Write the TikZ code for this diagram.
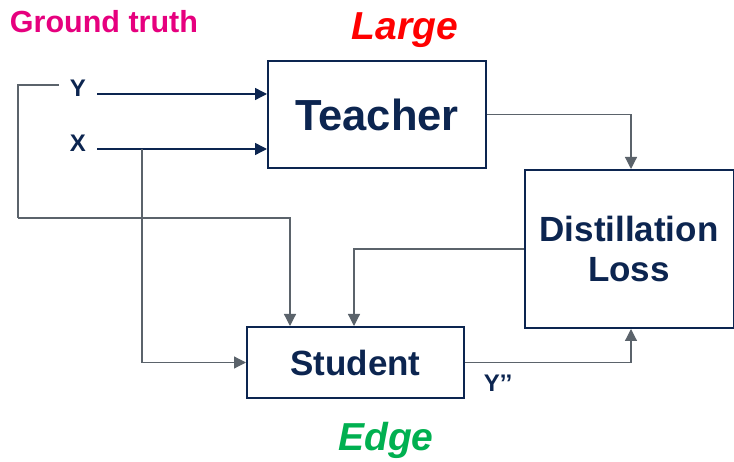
\documentclass[tikz,border=0pt]{standalone}
\usepackage{fontspec}
\setmainfont{Liberation Sans}
\usetikzlibrary{arrows.meta}
\definecolor{navy}{HTML}{0C2550}
\definecolor{wire}{HTML}{5B636B}
\definecolor{magenta}{HTML}{E6007E}
\definecolor{hotred}{HTML}{FF0000}
\definecolor{leaf}{HTML}{00B050}
\tikzset{
  blockbox/.style={draw=navy, line width=2pt, fill=white, text=navy, font=\bfseries, align=center, inner sep=0pt},
  lbl/.style={text=navy, font=\fontsize{24}{26}\selectfont\bfseries, inner xsep=11pt, inner ysep=0pt},
  navyarr/.style={draw=navy, line width=1.4pt, -{Triangle[length=12pt,width=12pt]}},
  greyarr/.style={draw=wire, line width=1.2pt, -{Triangle[length=12pt,width=12pt]}},
  greyline/.style={draw=wire, line width=1.2pt},
}
\begin{document}
\begin{tikzpicture}[x=1pt,y=-1pt]
\useasboundingbox (0,0) rectangle (734,462);

% blocks
\node[blockbox, minimum width=218pt, minimum height=107pt, font=\fontsize{43.5}{46}\selectfont\bfseries] (T) at (377,114.5) {Teacher};
\node[blockbox, minimum width=209pt, minimum height=158pt, font=\fontsize{35}{40}\selectfont\bfseries] (D) at (629,249) {Distillation\\Loss};
\node[blockbox, minimum width=217pt, minimum height=71pt, font=\fontsize{35}{38}\selectfont\bfseries] (S) at (355.5,362.5) {Student};

% input labels
\node[lbl] (Y) at (78,88) {Y};
\node[lbl] (X) at (78,143) {X};
\node[lbl, inner xsep=0pt] (Yp) at (498,383) {Y’’};

% headings
\node[text=magenta, font=\fontsize{30.5}{32}\selectfont\bfseries] (gt) at (104,22) {Ground truth};
\node[text=hotred, font=\fontsize{39}{42}\selectfont\bfseries\itshape] (lg) at (405,30) {Large};
\node[text=leaf, font=\fontsize{39}{42}\selectfont\bfseries\itshape] (ed) at (386,440) {Edge};

% bend points
\coordinate (ybend) at (18,218);
\coordinate (xsplit) at (142,149);

% teacher inputs
\draw[navyarr] ([yshift=-6pt]Y.east) -- ([yshift=-6pt]Y.east -| T.west);
\draw[navyarr] ([yshift=-6pt]X.east) -- ([yshift=-6pt]X.east -| T.west);

% ground truth to student
\draw[greyline] ([yshift=3pt]Y.west) -| (ybend);
\draw[greyarr] (ybend) -| ([xshift=-65.5pt]S.north);

% X to student
\draw[greyarr] (xsplit) |- (S.west);

% teacher to loss
\draw[greyarr] (T.east) -| ([xshift=2pt]D.north);

% loss feedback to student
\draw[greyarr] (D.west) -| ([xshift=-1.5pt]S.north);

% student output to loss
\draw[greyarr] (S.east) -| ([xshift=2pt]D.south);
\end{tikzpicture}
\end{document}
